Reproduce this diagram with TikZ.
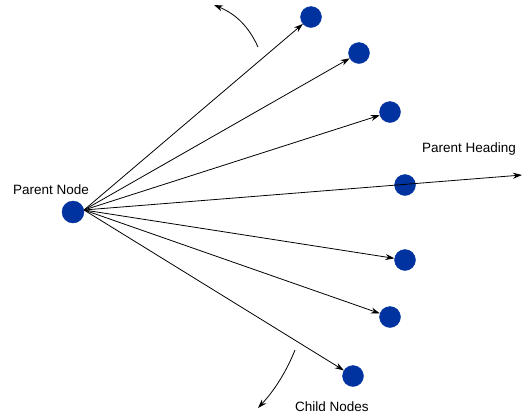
\documentclass[tikz,border=0pt]{standalone}
\usepackage{fontspec}
\setmainfont{Liberation Sans}
\usetikzlibrary{arrows.meta}
\definecolor{nodeblue}{RGB}{0,51,160}
\begin{document}
\begin{tikzpicture}[x=1pt,y=-1pt,
  agent/.style={circle,fill=nodeblue,draw=nodeblue,inner sep=0pt,minimum size=21pt},
  parent/.style={agent,minimum size=22pt},
  link/.style={draw=black,line width=0.8pt,-{Stealth[length=9pt,width=6pt]}},
  lbl/.style={font=\fontsize{13.5}{15}\selectfont,inner sep=0pt}]
\useasboundingbox (0,0) rectangle (525,416);
% parent and children
\node[parent] (p) at (73,212) {};
\node[agent] (c1) at (311,17) {};
\node[agent] (c2) at (359,53) {};
\node[agent] (c3) at (390,112) {};
\node[agent] (c4) at (405,185) {};
\node[agent] (c5) at (405,260) {};
\node[agent] (c6) at (390,317) {};
\node[agent] (c7) at (353,376) {};
% all links leave from the right side of the parent
\coordinate (pstart) at (84,210);
\coordinate (head) at (522,175);
\foreach \c in {c1,c2,c3,c5,c6,c7}
  \draw[link] (pstart) -- (\c);
\draw[link] (pstart) -- (head);
% rotation hints
\coordinate (t0) at (258,47);
\coordinate (t1) at (214,5);
\coordinate (b0) at (295,350);
\coordinate (b1) at (258,408);
\draw[link] (t0) .. controls (249,27) and (236,14) .. (t1);
\draw[link] (b0) .. controls (285,375) and (272,393) .. (b1);
% labels
\node[lbl] (lp) at (51,190) {Parent Node};
\node[lbl] (lh) at (469,149) {Parent Heading};
\node[lbl] (lc) at (332,407) {Child Nodes};
\end{tikzpicture}
\end{document}
